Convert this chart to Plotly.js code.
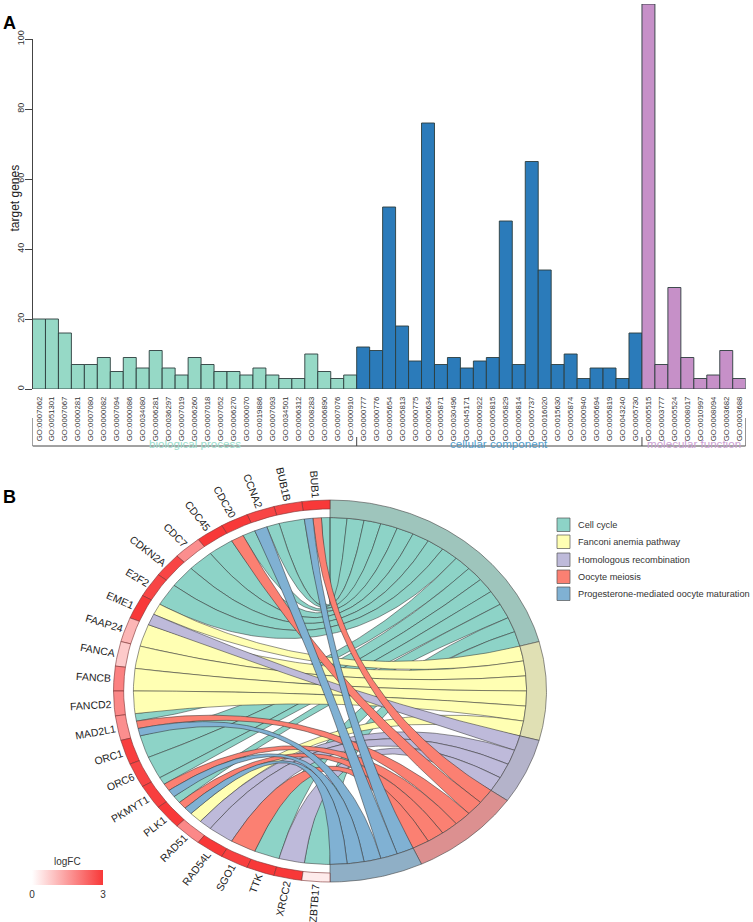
<!DOCTYPE html>
<html><head><meta charset="utf-8">
<script src="https://cdn.plot.ly/plotly-3.0.1.min.js"></script>
<style>html,body{margin:0;padding:0;background:#fff}#g{width:753px;height:922px}</style>
</head><body><div id="g"></div>
<script>
// ---------- Panel A data ----------
const goBP = ["GO:0007062","GO:0051301","GO:0007067","GO:0000281","GO:0007080","GO:0000082","GO:0007094","GO:0000086","GO:0034080","GO:0006281","GO:0036297","GO:0007019","GO:0006260","GO:0007018","GO:0007052","GO:0006270","GO:0000070","GO:0019886","GO:0007093","GO:0034501","GO:0006312","GO:0008283","GO:0006890","GO:0007076","GO:0000910"];
const countBP = [20,20,16,7,7,9,5,9,6,11,6,4,9,7,5,5,4,6,4,3,3,10,5,3,4];
const goCC = ["GO:0000777","GO:0000776","GO:0005654","GO:0005813","GO:0000775","GO:0005634","GO:0005871","GO:0030496","GO:0045171","GO:0000922","GO:0005815","GO:0005829","GO:0005814","GO:0005737","GO:0016020","GO:0015630","GO:0005874","GO:0000940","GO:0005694","GO:0005819","GO:0043240","GO:0005730"];
const countCC = [12,11,52,18,8,76,7,9,6,8,9,48,7,65,34,7,10,3,6,6,3,16];
const goMF = ["GO:0005515","GO:0003777","GO:0005524","GO:0008017","GO:0010997","GO:0008094","GO:0003682","GO:0003688"];
const countMF = [110,7,29,9,3,4,11,3];
const groupNames = ["biological process","cellular component","molecular function"];

// ---------- Panel B data ----------
const genes = ["BUB1","BUB1B","CCNA2","CDC20","CDC45","CDC7","CDKN2A","E2F2","EME1","FAAP24","FANCA","FANCB","FANCD2","MAD2L1","ORC1","ORC6","PKMYT1","PLK1","RAD51","RAD54L","SGO1","TTK","XRCC2","ZBTB17"];
const logFC = [3,2.8,2.8,3,3,1.7,2.8,2.8,3,1.1,0.8,1.9,1.8,1.7,2.9,2.8,2.9,3,1.8,3,2.9,3,3,0.3];
const pathways = ["Cell cycle","Fanconi anemia pathway","Homologous recombination","Oocyte meiosis","Progesterone-mediated oocyte maturation"];
const cellCycle = ["BUB1","BUB1B","CCNA2","CDC20","CDC45","CDC7","CDKN2A","E2F2","MAD2L1","ORC1","ORC6","PKMYT1","PLK1","TTK","ZBTB17"];
const fanconi = ["EME1","FAAP24","FANCA","FANCB","FANCD2","RAD51"];
const homologous = ["EME1","RAD51","RAD54L","XRCC2"];
const oocyte = ["BUB1","CDC20","MAD2L1","PKMYT1","PLK1","SGO1"];
const progesterone = ["BUB1","CCNA2","MAD2L1","PKMYT1","PLK1"];
const members = [cellCycle,fanconi,homologous,oocyte,progesterone];

// ---------- Styles ----------
const W=753,H=922, FONT='"Liberation Sans", Arial, sans-serif';
const pathCol=['#8DD3C7','#FFFFB3','#BEBADA','#FB8072','#80B1D3'];
const ringCol=['#9EC5BC','#E0E0B4','#B4B3CA','#DC9090','#8FAFC6'];
const lowRGB=[255,255,255], highRGB=[248,56,56], fcMax=3;
const px=v=>v/W, py=v=>1-v/H;
const cx=330,cy=691,rx=216.5,ry=191, rRib=0.908, rGene=0.953;

function fcColor(v){const t=Math.min(1,v/fcMax);
  return 'rgb('+lowRGB.map((l,i)=>Math.round(l+(highRGB[i]-l)*t)).join(',')+')';}
const rad=d=>d*Math.PI/180;
const termPt=(a,r)=>[r*Math.sin(rad(a)),r*Math.cos(rad(a))];
const genePt=(a,r)=>[-r*Math.sin(rad(a)),r*Math.cos(rad(a))];
function arc(fn,a0,a1,r){const n=Math.max(2,Math.ceil(Math.abs(a1-a0)/0.5));const o=[];
  for(let i=0;i<=n;i++)o.push(fn(a0+(a1-a0)*i/n,r));return o;}
function bez(p0,p1){const o=[];for(let i=0;i<=100;i++){const t=i/100,a=(1-t)*(1-t),b=t*t;
  o.push([a*p0[0]+b*p1[0],a*p0[1]+b*p1[1]]);}return o;}
function polyTrace(pts,fill,lw,lc){return {type:'scatter',mode:'lines',xaxis:'x2',yaxis:'y2',
  x:pts.map(p=>p[0]).concat([pts[0][0]]),y:pts.map(p=>p[1]).concat([pts[0][1]]),
  fill:'toself',fillcolor:fill,line:{color:lc,width:lw},hoverinfo:'skip',showlegend:false};}

const traces=[];
// Panel A bars
const groups=[[goBP,countBP,'#96D9C6'],[goCC,countCC,'#2B7BBA'],[goMF,countMF,'#C690C8']];
groups.forEach(g=>traces.push({type:'bar',x:g[0],y:g[1],marker:{color:g[2],line:{color:'#2d3d3d',width:0.9}},hoverinfo:'skip',showlegend:false}));
const allGO=goBP.concat(goCC,goMF);

// Panel B geometry
const nLinks=members.reduce((s,m)=>s+m.length,0), termStep=180/nLinks, geneStep=180/genes.length;
const genePaths=genes.map(g=>members.map((m,i)=>m.includes(g)?i:-1).filter(i=>i>=0));
let slot=0;
members.forEach((m,pi)=>{
  const t0=slot*termStep;
  m.forEach((g,k)=>{
    const gi=genes.indexOf(g), list=genePaths[gi], w=geneStep/list.length, pos=list.indexOf(pi);
    const gs=gi*geneStep+pos*w, ge=gs+w, ts=t0+k*termStep, te=ts+termStep;
    const pts=[].concat(
      bez(termPt(ts,rRib),genePt(gs,rRib)),
      arc(genePt,gs,ge,rRib),
      bez(genePt(ge,rRib),termPt(te,rRib)),
      arc(termPt,te,ts,rRib));
    traces.push(polyTrace(pts,pathCol[pi],0.5,'#2a2a2a'));
  });
  slot+=m.length;
});
// Term ring
slot=0;
members.forEach((m,pi)=>{
  const a0=slot*termStep,a1=(slot+m.length)*termStep;
  traces.push(polyTrace(arc(termPt,a0,a1,1).concat(arc(termPt,a1,a0,rRib)),ringCol[pi],0.6,'#444'));
  slot+=m.length;
});
// Gene ring
genes.forEach((g,i)=>{
  const a0=i*geneStep,a1=(i+1)*geneStep;
  traces.push(polyTrace(arc(genePt,a0,a1,1).concat(arc(genePt,a1,a0,rGene)),fcColor(logFC[i]),0.6,'#7a3030'));
});
// logFC colour bar, bound to the gene values
traces.push({type:'scatter',mode:'markers',xaxis:'x2',yaxis:'y2',
  x:genes.map((g,i)=>genePt((i+.5)*geneStep,.97)[0]),y:genes.map((g,i)=>genePt((i+.5)*geneStep,.97)[1]),
  hoverinfo:'skip',showlegend:false,
  marker:{size:1,opacity:0,color:logFC,cmin:0,cmax:fcMax,
    colorscale:[[0,fcColor(0)],[1,fcColor(fcMax)]],showscale:true,
    colorbar:{orientation:'h',lenmode:'pixels',len:71,thickness:15,thicknessmode:'pixels',
      x:px(32),xanchor:'left',xpad:0,y:py(896),yanchor:'bottom',ypad:0,outlinewidth:0,
      tickvals:[0,fcMax],ticktext:['0','3'],ticks:'',ticklabelposition:'outside',
      tickfont:{family:FONT,size:10,color:'#333'},
      title:{text:'',side:'top'}}}});

// Annotations
const ann=[];
const meas=document.createElement('canvas').getContext('2d');
meas.font='10.5px "Liberation Sans"';
genes.forEach((g,i)=>{
  const a=(i+.5)*geneStep, s=Math.sin(rad(a)), c=Math.cos(rad(a));
  const dx=-rx*s, dy=-ry*c, L=Math.hypot(dx,dy), ux=dx/L, uy=dy/L; // outward in pixels
  const dist=2.5+meas.measureText(g).width/2;
  const X=cx+dx+ux*dist, Y=cy+dy+uy*dist;
  const ang=Math.atan2(-uy,-ux)*180/Math.PI;
  ann.push({xref:'paper',yref:'paper',x:px(X),y:py(Y),text:g,showarrow:false,textangle:ang,
    xanchor:'center',yanchor:'middle',font:{family:FONT,size:10.5,color:'#222'},borderpad:0});
});
const txt=(x,y,t,size,color,extra)=>ann.push(Object.assign({xref:'paper',yref:'paper',x:px(x),y:py(y),text:t,showarrow:false,
  xanchor:'left',yanchor:'middle',font:{family:FONT,size:size,color:color}},extra||{}));
txt(1,23,'<b>A</b>',18,'#000');
txt(1,497,'<b>B</b>',18,'#000');
txt(15,198.5,'target genes',12,'#222',{textangle:-90,xanchor:'center'});
txt(67,861,'logFC',10,'#333',{xanchor:'center'});
const legY=[525,542,560,577,594];
pathways.forEach((p,i)=>txt(576,legY[i],p,9.2,'#333'));
const shapes=[];
legY.forEach((y,i)=>shapes.push({type:'rect',xref:'paper',yref:'paper',x0:px(557),x1:px(570),y0:py(y-7),y1:py(y+6.5),
  fillcolor:pathCol[i],line:{color:'#555',width:0.7}}));
// y-axis line from 0 to 100
shapes.push({type:'line',xref:'paper',yref:'y',x0:px(32.5),x1:px(32.5),y0:0,y1:100,line:{color:'#444',width:1}});
// group brackets
const bcol='#444';
const starts=[0,goBP.length,goBP.length+goCC.length,allGO.length];
const by0=py(446);
shapes.push({type:'line',xref:'x',yref:'paper',x0:starts[0]-.5,x1:starts[3]-.5,y0:by0,y1:by0,line:{color:bcol,width:1}});
[[0,418],[1,437],[2,437],[3,418]].forEach(b=>shapes.push({type:'line',xref:'x',yref:'paper',x0:starts[b[0]]-.5,x1:starts[b[0]]-.5,y0:by0,y1:py(b[1]),line:{color:bcol,width:1}}));
const gCol=['#9ADCCB','#4F9CCB','#CBA0D2'];
groupNames.forEach((n,i)=>ann.push({xref:'x',yref:'paper',x:(starts[i]+starts[i+1])/2-.5,y:py(443),text:n,showarrow:false,
  xanchor:'center',yanchor:'middle',font:{family:FONT,size:11.6,color:gCol[i]}}));

const layout={width:W,height:H,margin:{l:0,r:0,t:0,b:0},paper_bgcolor:'#fff',plot_bgcolor:'rgba(0,0,0,0)',
  barmode:'overlay',bargap:0,showlegend:false,
  xaxis:{domain:[px(32.5),px(745.7)],type:'category',categoryorder:'array',categoryarray:allGO,
    range:[-.5,allGO.length-.5],tickmode:'array',tickvals:allGO,ticktext:allGO,tickangle:-90,ticks:'',ticklabelstandoff:5,
    tickfont:{family:FONT,size:7.8,color:'#333'},showgrid:false,zeroline:false,showline:false,fixedrange:true},
  yaxis:{domain:[py(389),py(4)],range:[0,110],tickmode:'array',tickvals:[0,20,40,60,80,100],tickangle:-90,
    ticks:'outside',ticklen:7,tickcolor:'#444',tickwidth:1,ticklabelstandoff:-3,tickfont:{family:FONT,size:9,color:'#333'},
    showgrid:false,zeroline:false,showline:false,fixedrange:true},
  xaxis2:{domain:[px(100),px(560)],range:[-230/rx,230/rx],visible:false,fixedrange:true},
  yaxis2:{domain:[py(892),py(490)],range:[-201/ry,201/ry],visible:false,fixedrange:true},
  shapes:shapes,annotations:ann};
Plotly.newPlot('g',traces,layout,{displayModeBar:false,staticPlot:true});
</script></body></html>
